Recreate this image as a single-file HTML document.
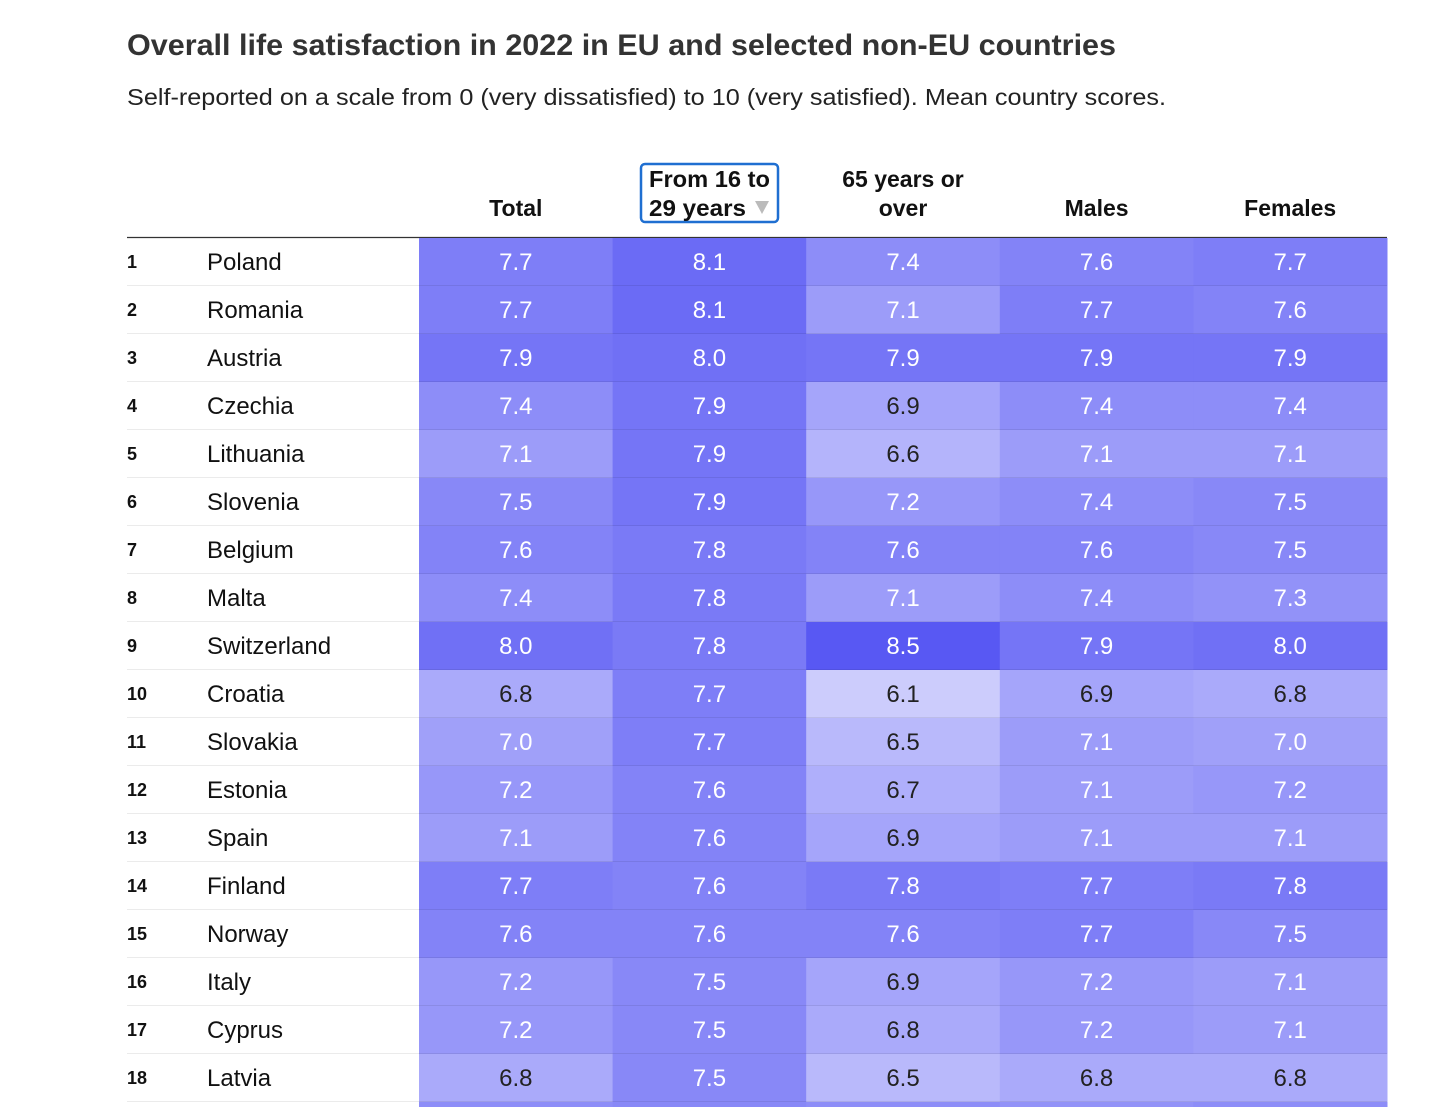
<!DOCTYPE html>
<html><head><meta charset="utf-8"><style>
body{margin:0;background:#fff;}
svg{display:block;font-family:"Liberation Sans",Arial,sans-serif;}
</style></head><body>
<svg id="chart" width="1455" height="1107" viewBox="0 0 1455 1107">
<text x="127" y="55" font-size="30" font-weight="bold" fill="#333" textLength="989" lengthAdjust="spacingAndGlyphs">Overall life satisfaction in 2022 in EU and selected non-EU countries</text>
<text x="127" y="105" font-size="23" fill="#222" textLength="1039" lengthAdjust="spacingAndGlyphs">Self-reported on a scale from 0 (very dissatisfied) to 10 (very satisfied). Mean country scores.</text>
<g id="header"></g>
<g id="body"></g>
</svg>
<script>
const columns = ["Total", "From 16 to 29 years", "65 years or over", "Males", "Females"];
const countries = ["Poland","Romania","Austria","Czechia","Lithuania","Slovenia","Belgium","Malta","Switzerland","Croatia","Slovakia","Estonia","Spain","Finland","Norway","Italy","Cyprus","Latvia","Hungary"];
const totalVals  = [7.7,7.7,7.9,7.4,7.1,7.5,7.6,7.4,8.0,6.8,7.0,7.2,7.1,7.7,7.6,7.2,7.2,6.8,7.4];
const youngVals  = [8.1,8.1,8.0,7.9,7.9,7.9,7.8,7.8,7.8,7.7,7.7,7.6,7.6,7.6,7.6,7.5,7.5,7.5,7.5];
const oldVals    = [7.4,7.1,7.9,6.9,6.6,7.2,7.6,7.1,8.5,6.1,6.5,6.7,6.9,7.8,7.6,6.9,6.8,6.5,7.4];
const maleVals   = [7.6,7.7,7.9,7.4,7.1,7.4,7.6,7.4,7.9,6.9,7.1,7.1,7.1,7.7,7.7,7.2,7.2,6.8,7.3];
const femaleVals = [7.7,7.6,7.9,7.4,7.1,7.5,7.5,7.3,8.0,6.8,7.0,7.2,7.1,7.8,7.5,7.1,7.1,6.8,7.4];
const series = [totalVals, youngVals, oldVals, maleVals, femaleVals];

const NS = "http://www.w3.org/2000/svg";
const cellX0 = 419, cellW = 193.6, rowY0 = 238, rowH = 48;
function xCol(i){ return cellX0 + i*cellW; }
function yRow(r){ return rowY0 + r*rowH; }
function color(v){
  const c = Math.max(60, Math.min(215, Math.round(107 + (8.1 - v)*48.5)));
  const b = Math.max(235, Math.min(252, Math.round(245 + (8.1 - v)*4)));
  return `rgb(${c},${c},${b})`;
}
function mk(tag, attrs, parent, txt){
  const e = document.createElementNS(NS, tag);
  for (const k in attrs) e.setAttribute(k, attrs[k]);
  if (txt !== undefined) e.textContent = txt;
  parent.appendChild(e);
  return e;
}
const head = document.getElementById('header');
const body = document.getElementById('body');
const headLines = [["Total"],["From 16 to","29 years"],["65 years or","over"],["Males"],["Females"]];
columns.forEach((c, i) => {
  const cx = xCol(i) + cellW/2;
  const g = mk('g', {}, head);
  
  
  const lines = headLines[i];
  if (i === 1) {
    mk('rect', {x:641, y:164, width:137, height:58, rx:4, fill:'none', stroke:'#1f6fd1', 'stroke-width':2.5}, g);
    mk('text', {x:649, y:187, 'font-size':23, 'font-weight':'bold', fill:'#111', textLength:121, lengthAdjust:'spacingAndGlyphs'}, g, lines[0]);
    mk('text', {x:649, y:216, 'font-size':23, 'font-weight':'bold', fill:'#111', textLength:97, lengthAdjust:'spacingAndGlyphs'}, g, lines[1]);
    mk('path', {d:'M755 201 L769 201 L762 214 Z', fill:'#bbb'}, g);
  } else {
    lines.forEach((l, k) => {
      const y = lines.length === 2 ? 187 + k*29 : 216;
      mk('text', {x:cx, y:y, 'font-size':23, 'font-weight':'bold', fill:'#111', 'text-anchor':'middle'}, g, l);
    });
  }
});
const hl = mk('line', {x1:127, x2:1387, y1:237.5, y2:237.5, stroke:'#333', 'stroke-width':1.2}, head);



countries.forEach((name, r) => {
  const y = yRow(r);
  const g = mk('g', {}, body);
  
  
  series.forEach((vals, i) => {
    const v = vals[r];
    const rc = mk('rect', {x:xCol(i), y:y, width:cellW+0.5, height:rowH, fill:color(v)}, g);
    
    
    const t = mk('text', {x:xCol(i)+cellW/2, y:y+32, 'font-size':24, 'text-anchor':'middle', fill: v < 7.0 ? '#222' : '#fff'}, g, v.toFixed(1));
    
    
  });
  const sep = mk('line', {x1:127, x2:1387, y1:y+rowH-0.5, y2:y+rowH-0.5, stroke:'rgba(0,0,0,0.08)', 'stroke-width':1}, g);
  
  
  const rk = mk('text', {x:127, y:y+30, 'font-size':18, 'font-weight':'bold', fill:'#111'}, g, String(r+1));
  
  
  const cn = mk('text', {x:207, y:y+32, 'font-size':24, fill:'#111'}, g, name);
  
  
});
</script>
</body></html>
